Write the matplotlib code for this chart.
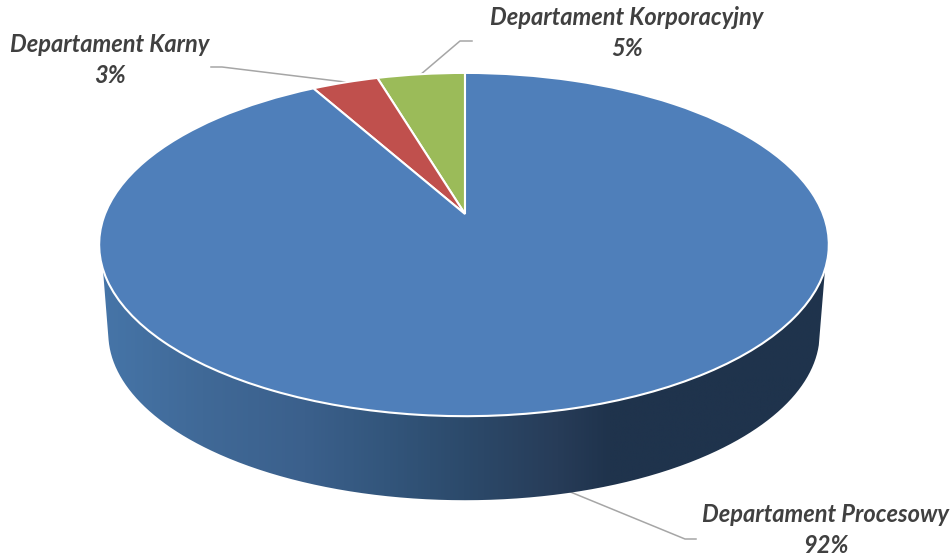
import matplotlib
matplotlib.use("Agg")
import matplotlib.pyplot as plt
import numpy as np
from matplotlib.colors import LinearSegmentedColormap
from matplotlib.patches import PathPatch
from matplotlib.path import Path
from matplotlib.transforms import Transform

# Slices, counter-clockwise from 12 o'clock
departments = ["Departament Korporacyjny", "Departament Karny", "Departament Procesowy"]
shares = [4.6, 3.49, 91.91]
slice_colors = ["#9bbb59", "#c0504d", "#4f7fba"]


# Tilted disc: unit circle to figure pixels, with perspective
class Tilt(Transform):
    input_dims = 2
    output_dims = 2

    def transform_non_affine(self, xy):
        xy = np.asarray(xy, dtype=float)
        w = 0.178 * xy[:, 1] + 1
        half_width = np.where(xy[:, 0] < 0, 360.0, 358.0)
        return np.column_stack([465 + half_width * xy[:, 0] / w, (214 - 128.1 * xy[:, 1]) / w])


tilt = Tilt()

fig = plt.figure(figsize=(9.53, 5.56), dpi=100)
ax = fig.add_axes([0, 0, 1, 1])

wedges, _ = ax.pie(shares, colors=slice_colors, startangle=90,
                   wedgeprops={"edgecolor": "white", "linewidth": 1.5})
for w in wedges:
    w.set_transform(tilt + ax.transData)
    w.set_zorder(3)

# Side wall of the disc
t = np.linspace(0, 2 * np.pi, 1441)
circle = np.column_stack([np.cos(t), np.sin(t)])
top = tilt.transform_non_affine(circle)
bottom = np.column_stack([464.5 + (top[:, 0] - 464.5) * 0.975, 214 + (top[:, 1] - 214) * 0.973 + 89.5])


def lower_arc(points, y_min):
    part = points[points[:, 1] >= y_min]
    return part[np.argsort(part[:, 0])]


top_arc = lower_arc(top, 269)
bottom_arc = lower_arc(bottom, 335)
wall = Path(np.vstack([top_arc, bottom_arc[::-1], top_arc[:1]]))

wall_cmap = LinearSegmentedColormap.from_list("wall", [
    (0.0, "#4675a8"), (0.14, "#406997"), (0.28, "#3b608c"), (0.39, "#33567c"),
    (0.50, "#2c4a6b"), (0.63, "#273c58"), (0.70, "#1f334c"), (1.0, "#1f334c"),
])
im = ax.imshow(np.linspace(0, 1, 512)[None, :], cmap=wall_cmap, aspect="auto",
               extent=[100, 828, 510, 250], zorder=2)
clip = PathPatch(wall, transform=ax.transData, facecolor="none", edgecolor="none")
ax.add_patch(clip)
im.set_clip_path(clip)

ax.set_aspect("auto")
ax.set_xlim(0, 953)
ax.set_ylim(556, 0)
ax.axis("off")

# Leader lines
for xs, ys in [([472, 460, 420], [41, 41, 75]),
               ([211, 222, 345], [67, 67, 82]),
               ([568, 685, 696], [491, 539, 539])]:
    ax.plot(xs, ys, color="#a6a6a6", lw=1.1, zorder=1.5)

# Labels
label_pos = [(627, 33), (110, 60), (826, 530)]
for name, share, (x, y) in zip(departments, shares, label_pos):
    ax.text(x, y, f"{name}\n{share:.0f}%", ha="center", va="center", family="Lato",
            fontsize=17, fontweight="bold", fontstyle="italic", color="#404040",
            linespacing=1.37, zorder=5)

plt.savefig("out.png", dpi=100)
